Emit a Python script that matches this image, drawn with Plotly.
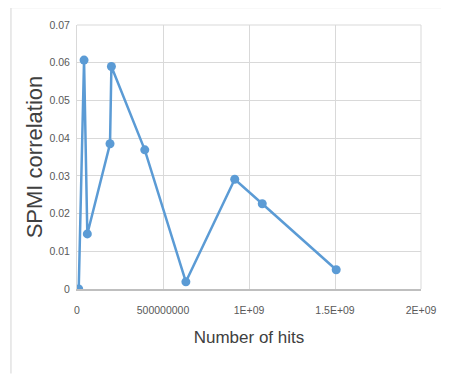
import plotly.graph_objects as go

hits = [1.0e7, 4.1e7, 6.0e7, 1.92e8, 2.0e8, 3.94e8, 6.33e8, 9.17e8, 1.077e9, 1.507e9]
spmi = [0.0, 0.0607, 0.0146, 0.0385, 0.059, 0.0369, 0.0019, 0.0291, 0.0226, 0.0051]

x_tickvals = [0, 5e8, 1e9, 1.5e9, 2e9]
x_ticktext = ["0", "500000000", "1E+09", "1.5E+09", "2E+09"]
y_tickvals = [0, 0.01, 0.02, 0.03, 0.04, 0.05, 0.06, 0.07]
y_ticktext = ["0", "0.01", "0.02", "0.03", "0.04", "0.05", "0.06", "0.07"]

font = "Liberation Sans, Arial, sans-serif"

fig = go.Figure()
fig.add_trace(go.Scatter(
    x=hits, y=spmi, mode="lines+markers",
    line=dict(color="#5b9bd5", width=2.5),
    marker=dict(color="#5b9bd5", size=9),
    showlegend=False,
))

fig.update_layout(
    width=441, height=367,
    margin=dict(l=69, r=28, t=17, b=86),
    paper_bgcolor="white", plot_bgcolor="white",
    xaxis=dict(
        range=[0, 2e9], tickvals=x_tickvals, ticktext=x_ticktext,
        showgrid=True, gridcolor="#d9d9d9", gridwidth=1,
        zeroline=False, showline=True, linecolor="#bfbfbf", linewidth=1.5,
        mirror=False, ticks="", ticklen=0, ticklabelstandoff=11,
        tickfont=dict(family=font, size=10.5, color="#595959"),
        title=dict(text="Number of hits", font=dict(family=font, size=17, color="#404040"), standoff=16),
    ),
    yaxis=dict(
        range=[0, 0.07], tickvals=y_tickvals, ticktext=y_ticktext,
        showgrid=True, gridcolor="#d9d9d9", gridwidth=1,
        zeroline=False, showline=True, linecolor="#d9d9d9", linewidth=1,
        ticks="", ticklabelstandoff=4,
        tickfont=dict(family=font, size=10.5, color="#595959"),
        title=dict(text="SPMI correlation", font=dict(family=font, size=22, color="#404040"), standoff=0),
    ),
    shapes=[
        dict(type="line", xref="paper", yref="paper", x0=1.0, x1=1.0, y0=0, y1=1,
             line=dict(color="#d9d9d9", width=1)),
        dict(type="line", xref="paper", yref="paper", x0=0, x1=1.0, y0=1, y1=1,
             line=dict(color="#d9d9d9", width=1)),
        dict(type="line", xref="paper", yref="paper", x0=-0.192, x1=1.2, y0=1.066, y1=1.066,
             line=dict(color="#e3e3e3", width=1.5)),
        dict(type="line", xref="paper", yref="paper", x0=-0.192, x1=-0.192, y0=1.066, y1=-0.32,
             line=dict(color="#e3e3e3", width=1.5)),
    ],
)

fig.write_html("out.html")
